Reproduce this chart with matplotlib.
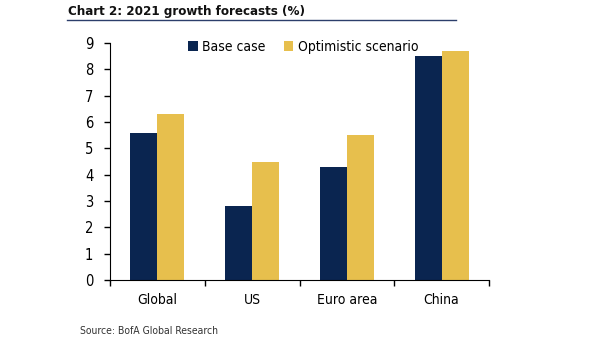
import numpy as np
import matplotlib.pyplot as plt
from matplotlib.lines import Line2D

regions = ['Global', 'US', 'Euro area', 'China']
base_case = [5.6, 2.8, 4.3, 8.5]
optimistic = [6.3, 4.5, 5.5, 8.7]

navy = '#0a2550'
gold = '#e7bf4d'

plt.rcParams['font.family'] = ['DejaVu Sans']
plt.rcParams['font.stretch'] = 'condensed'

fig = plt.figure(figsize=(6.05, 3.41), dpi=100)
ax = fig.add_axes([110 / 605, 1 - 280 / 341, 379 / 605, 237 / 341])

x = np.arange(len(regions))
w = 0.285
ax.bar(x - w / 2, base_case, w, color=navy, label='Base case')
ax.bar(x + w / 2, optimistic, w, color=gold, label='Optimistic scenario')

ax.set_xlim(-0.5, 3.5)
ax.set_ylim(0, 9)
ax.set_yticks(range(0, 10))
ax.set_xticks(x)
ax.set_xticklabels(regions)
ax.set_xticks(np.arange(-0.5, 4, 1), minor=True)
ax.tick_params(axis='x', which='major', length=0, labelsize=10, pad=9)
ax.tick_params(axis='x', which='minor', length=4, direction='out', width=1)
ax.tick_params(axis='y', length=4, direction='out', width=1, labelsize=10.5, pad=8)

for s in ['top', 'right']:
    ax.spines[s].set_visible(False)

ax.legend(loc='center', bbox_to_anchor=(0.51, 0.983), ncol=2, frameon=False,
          fontsize=10, handlelength=0.7, handleheight=0.7, handletextpad=0.3,
          columnspacing=1.3)

fig.text(68 / 605, 1 - 12 / 341, 'Chart 2: 2021 growth forecasts (%)', fontsize=9.5,
         fontweight='bold', va='center', ha='left', color='#111111')
fig.add_artist(Line2D([67 / 605, 456 / 605], [1 - 20 / 341, 1 - 20 / 341],
                      color='#2c3e6b', lw=1, transform=fig.transFigure))
fig.text(80 / 605, 1 - 331 / 341, 'Source: BofA Global Research', fontsize=7.5,
         va='center', ha='left', color='#333333')

fig.savefig('out.png', dpi=100)
